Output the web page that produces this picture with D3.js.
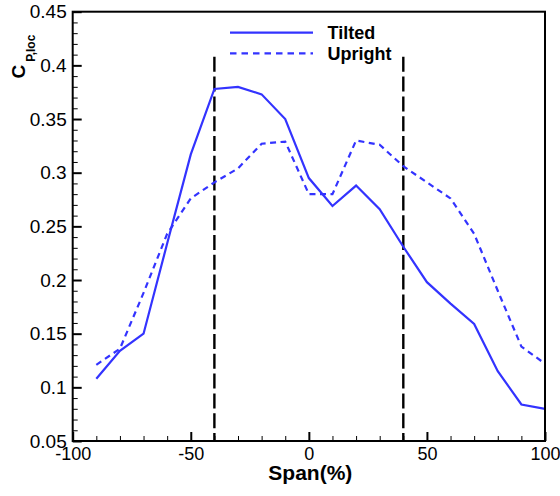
<!DOCTYPE html>
<html>
<head>
<meta charset="utf-8">
<script src="https://cdn.jsdelivr.net/npm/d3@7"></script>
<style>
  html, body { margin: 0; padding: 0; background: #fff; }
  svg { display: block; }
  text { font-family: "Liberation Sans", Arial, Helvetica, sans-serif; fill: #000; }
</style>
</head>
<body>
<svg id="chart" width="560" height="496"></svg>
<script>
// ---- data ----
const spans = [-90, -80, -70, -60, -50, -40, -30, -20, -10, 0, 10, 20, 30, 40, 50, 60, 70, 80, 90, 100];
const tilted = [0.108, 0.134, 0.150, 0.234, 0.317, 0.378, 0.380, 0.373, 0.350, 0.295, 0.269, 0.288, 0.266, 0.231, 0.198, 0.178, 0.159, 0.115, 0.084, 0.080];
const upright = [0.121, 0.136, 0.188, 0.243, 0.276, 0.291, 0.304, 0.327, 0.329, 0.280, 0.280, 0.330, 0.326, 0.306, 0.291, 0.276, 0.243, 0.190, 0.138, 0.122];
const seriesNames = ["Tilted", "Upright"];
const markerSpans = [-40, 40];
const markerTop = 0.408;
const xTicks = [-100, -50, 0, 50, 100];
const xTickLabels = ["-100", "-50", "0", "50", "100"];
const xMinorTicks = [-90, -80, -70, -60, -40, -30, -20, -10, 10, 20, 30, 40, 60, 70, 80, 90];
const yTicks = [0.05, 0.1, 0.15, 0.2, 0.25, 0.3, 0.35, 0.4, 0.45];
const yTickLabels = ["0.05", "0.1", "0.15", "0.2", "0.25", "0.3", "0.35", "0.4", "0.45"];
const yMinorTicks = d3.range(0.06, 0.45, 0.01).filter(v => Math.abs(v * 20 - Math.round(v * 20)) > 1e-6);
const xTitle = "Span(%)";

// ---- layout ----
const L = 72.7, R = 545, T = 11.7, B = 441;
const blue = "#3333ff";
const svg = d3.select("#chart");
const x = d3.scaleLinear().domain([-100, 100]).range([L, R]);
const y = d3.scaleLinear().domain([0.05, 0.45]).range([B, T]);

// minor ticks
const xMinor = d3.axisBottom(x).tickValues(xMinorTicks).tickSizeInner(-5).tickSizeOuter(0).tickFormat("");
const yMinor = d3.axisLeft(y).tickValues(yMinorTicks).tickSizeInner(-5).tickSizeOuter(0).tickFormat("");
svg.append("g").attr("transform", `translate(0,${B})`).call(xMinor).call(g => g.select(".domain").remove())
  .selectAll("line").attr("stroke", "#000").attr("stroke-width", 1);
svg.append("g").attr("transform", `translate(${L},0)`).call(yMinor).call(g => g.select(".domain").remove())
  .selectAll("line").attr("stroke", "#000").attr("stroke-width", 1);

// major ticks
const xAxis = d3.axisBottom(x).tickValues(xTicks).tickSizeInner(-9).tickSizeOuter(0).tickPadding(6)
  .tickFormat((d, i) => xTickLabels[i]);
const yAxis = d3.axisLeft(y).tickValues(yTicks).tickSizeInner(-9).tickSizeOuter(0).tickPadding(6)
  .tickFormat((d, i) => yTickLabels[i]);
const gx = svg.append("g").attr("transform", `translate(0,${B})`).call(xAxis);
gx.select(".domain").remove();
gx.selectAll("line").attr("stroke", "#000").attr("stroke-width", 2);
gx.selectAll("text").attr("font-size", 18).attr("fill", "#000")
  .style("font-family", '"Liberation Sans", Arial, sans-serif');
const gy = svg.append("g").attr("transform", `translate(${L},0)`).call(yAxis);
gy.select(".domain").remove();
gy.selectAll("line").attr("stroke", "#000").attr("stroke-width", 2);
gy.selectAll("text").attr("font-size", 19).attr("fill", "#000")
  .style("font-family", '"Liberation Sans", Arial, sans-serif');

// vertical dashed marker lines
svg.selectAll("line.marker").data(markerSpans).join("line")
  .attr("class", "marker")
  .attr("x1", d => x(d)).attr("x2", d => x(d))
  .attr("y1", y(markerTop)).attr("y2", y(0.05))
  .attr("stroke", "#000").attr("stroke-width", 2.4)
  .attr("stroke-dasharray", "15,4.8");

// series lines
const line = d3.line().x((d, i) => x(spans[i])).y(d => y(d));
svg.append("path").datum(upright).attr("d", line)
  .attr("fill", "none").attr("stroke", blue).attr("stroke-width", 2.2)
  .attr("stroke-dasharray", "6,4.5");
svg.append("path").datum(tilted).attr("d", line)
  .attr("fill", "none").attr("stroke", blue).attr("stroke-width", 2.2);

// frame
svg.append("rect").attr("x", L).attr("y", T).attr("width", R - L).attr("height", B - T)
  .attr("fill", "none").attr("stroke", "#000").attr("stroke-width", 2);

// legend
const legY = [32.7, 53.3];
const legDash = [null, "6.5,5"];
seriesNames.forEach((name, i) => {
  svg.append("line").attr("x1", 230).attr("x2", 313).attr("y1", legY[i]).attr("y2", legY[i])
    .attr("stroke", blue).attr("stroke-width", 2.2)
    .attr("stroke-dasharray", legDash[i]);
  svg.append("text").attr("x", 327.5).attr("y", legY[i] + 6.3)
    .attr("font-size", 18).attr("font-weight", "bold").text(name);
});

// axis titles
svg.append("text").attr("x", (L + R) / 2 + 1.5).attr("y", 480).attr("text-anchor", "middle")
  .attr("font-size", 21).attr("font-weight", "bold").text(xTitle);

const yt = svg.append("text").attr("transform", "translate(25,78.5) rotate(-90)")
  .attr("font-weight", "bold");
yt.append("tspan").attr("font-size", 19).text("C");
yt.append("tspan").attr("font-size", 12).attr("dx", 3).attr("dy", 10).text("P,loc");
</script>
</body>
</html>
